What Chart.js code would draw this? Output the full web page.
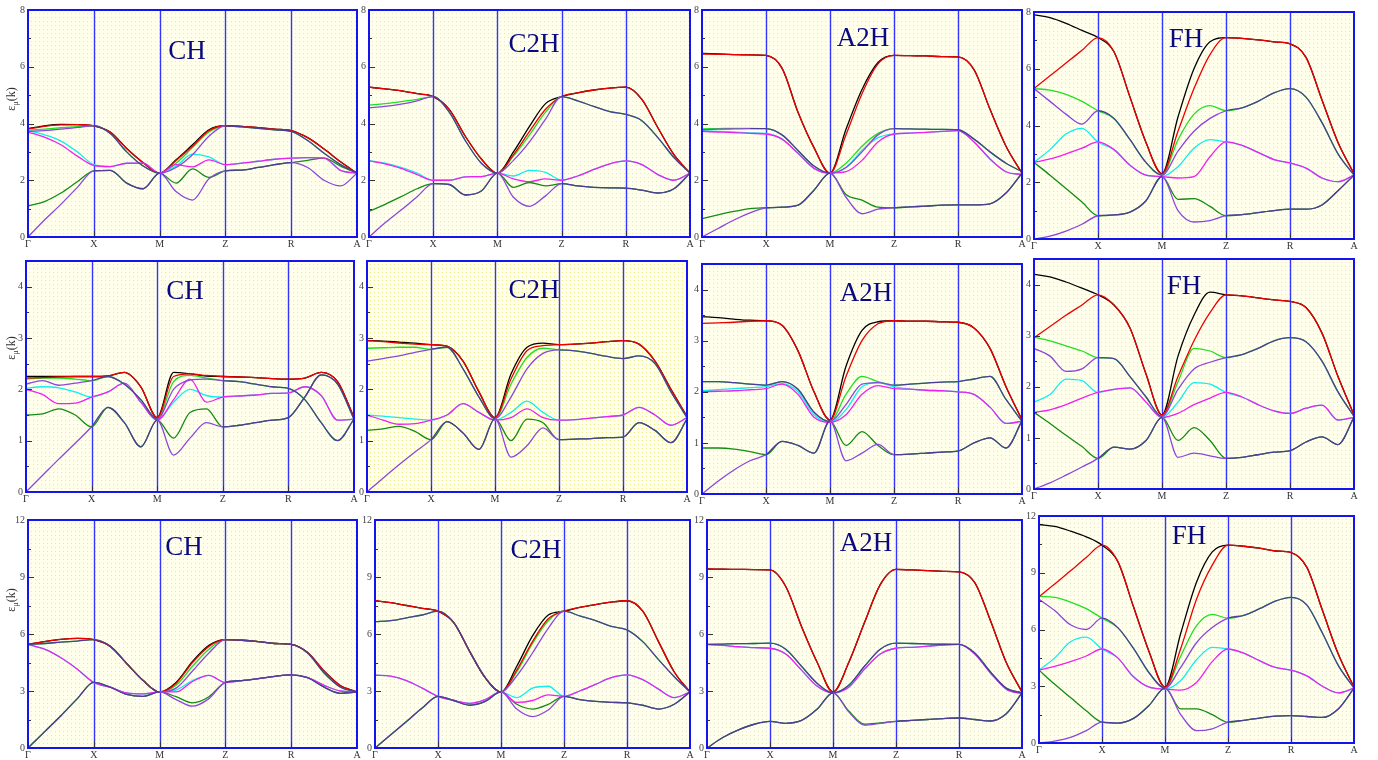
<!DOCTYPE html>
<html>
<head>
<meta charset="utf-8">
<script src="https://cdn.jsdelivr.net/npm/chart.js@4.4.0/dist/chart.umd.min.js"></script>
<style>
html, body { margin: 0; padding: 0; background: #fff; }
body { width: 1378px; height: 760px; position: relative; overflow: hidden; }
canvas { position: absolute; }
</style>
</head>
<body>
<script>
// high-symmetry path and sample positions along it
const kLabels = ['Γ', 'X', 'M', 'Z', 'R', 'A'];
const kPath = [0, 0.25, 0.5, 0.75, 1, 1.25, 1.5, 1.75, 2, 2.25, 2.5, 2.75, 3, 3.25, 3.5, 3.75, 4, 4.25, 4.5, 4.75, 5];

const rowMax = [8, 4.5, 12];
const rowStep = [2, 1, 3];

// band order (low -> high): violet, green4, magenta, cyan, violet, green, red, black
// ---- row 1 ----
const bandsCH1 = [
  [0, .6, 1.15, 1.75, 2.33, 2.35, 1.9, 1.7, 2.25, 1.6, 1.3, 2.05, 2.33, 2.36, 2.45, 2.55, 2.62, 2.45, 2.0, 1.8, 2.25],
  [1.1, 1.25, 1.55, 1.95, 2.33, 2.35, 1.9, 1.7, 2.25, 1.9, 2.4, 2.1, 2.33, 2.36, 2.45, 2.55, 2.62, 2.7, 2.78, 2.5, 2.25],
  [3.7, 3.52, 3.25, 2.85, 2.52, 2.48, 2.6, 2.6, 2.25, 2.55, 2.47, 2.72, 2.55, 2.6, 2.67, 2.74, 2.78, 2.8, 2.78, 2.35, 2.25],
  [3.75, 3.6, 3.38, 3.0, 2.55, 2.48, 2.6, 2.6, 2.25, 2.5, 2.92, 2.82, 2.55, 2.6, 2.67, 2.74, 2.78, 2.8, 2.78, 2.35, 2.25],
  [3.72, 3.75, 3.8, 3.86, 3.92, 3.65, 3.0, 2.5, 2.25, 2.45, 2.9, 3.55, 3.92, 3.88, 3.83, 3.78, 3.72, 3.4, 2.95, 2.55, 2.25],
  [3.76, 3.8, 3.85, 3.89, 3.92, 3.65, 3.0, 2.5, 2.25, 2.6, 3.15, 3.7, 3.92, 3.88, 3.83, 3.78, 3.72, 3.4, 2.95, 2.55, 2.25],
  [3.8, 3.9, 3.95, 3.96, 3.92, 3.7, 3.12, 2.62, 2.25, 2.7, 3.2, 3.75, 3.92, 3.9, 3.85, 3.8, 3.75, 3.5, 3.1, 2.65, 2.25],
  [3.82, 3.92, 3.97, 3.96, 3.92, 3.7, 3.12, 2.62, 2.25, 2.72, 3.25, 3.78, 3.92, 3.9, 3.85, 3.8, 3.75, 3.5, 3.1, 2.65, 2.25]
];
const bandsC2H1 = [
  [0, .5, .95, 1.42, 1.88, 1.85, 1.48, 1.62, 2.25, 1.4, 1.08, 1.45, 1.88, 1.8, 1.75, 1.73, 1.72, 1.65, 1.55, 1.7, 2.25],
  [.9, 1.15, 1.42, 1.7, 1.88, 1.85, 1.48, 1.62, 2.25, 1.75, 1.92, 1.8, 1.88, 1.8, 1.75, 1.73, 1.72, 1.65, 1.55, 1.7, 2.25],
  [2.68, 2.58, 2.42, 2.2, 2.0, 2.0, 2.12, 2.13, 2.25, 2.05, 1.95, 2.05, 2.0, 2.15, 2.38, 2.58, 2.68, 2.55, 2.2, 2.0, 2.25],
  [2.7, 2.6, 2.45, 2.25, 2.0, 2.0, 2.12, 2.13, 2.25, 2.15, 2.35, 2.28, 2.0, 2.15, 2.38, 2.58, 2.68, 2.55, 2.2, 2.0, 2.25],
  [4.55, 4.6, 4.68, 4.8, 4.95, 4.4, 3.4, 2.6, 2.25, 2.7, 3.35, 4.15, 4.95, 4.8, 4.6, 4.42, 4.32, 4.1, 3.5, 2.8, 2.25],
  [4.65, 4.7, 4.77, 4.85, 4.95, 4.4, 3.4, 2.6, 2.25, 2.85, 3.6, 4.4, 4.95, 4.8, 4.6, 4.42, 4.32, 4.1, 3.5, 2.8, 2.25],
  [5.28, 5.22, 5.15, 5.05, 4.95, 4.5, 3.55, 2.75, 2.25, 2.9, 3.72, 4.5, 4.95, 5.08, 5.18, 5.25, 5.28, 4.85, 3.85, 2.9, 2.25],
  [5.28, 5.22, 5.15, 5.05, 4.95, 4.5, 3.55, 2.75, 2.25, 3.0, 3.9, 4.7, 4.95, 5.08, 5.18, 5.25, 5.28, 4.85, 3.85, 2.9, 2.25]
];
const bandsA2H1 = [
  [0, .3, .6, .85, 1.03, 1.05, 1.12, 1.65, 2.25, 1.4, .82, .98, 1.03, 1.06, 1.09, 1.12, 1.13, 1.13, 1.17, 1.55, 2.25],
  [.65, .78, .9, 1.0, 1.03, 1.05, 1.12, 1.65, 2.25, 1.5, 1.3, 1.05, 1.03, 1.06, 1.09, 1.12, 1.13, 1.13, 1.17, 1.55, 2.25],
  [3.72, 3.7, 3.68, 3.65, 3.63, 3.45, 2.95, 2.42, 2.25, 2.3, 2.7, 3.35, 3.63, 3.66, 3.69, 3.72, 3.75, 3.35, 2.75, 2.3, 2.2],
  [3.75, 3.72, 3.7, 3.67, 3.65, 3.45, 2.95, 2.42, 2.25, 2.45, 3.05, 3.5, 3.63, 3.66, 3.69, 3.72, 3.75, 3.35, 2.75, 2.3, 2.2],
  [3.78, 3.8, 3.81, 3.82, 3.82, 3.6, 3.05, 2.5, 2.25, 2.45, 3.0, 3.6, 3.82, 3.81, 3.8, 3.79, 3.78, 3.45, 3.0, 2.6, 2.3],
  [3.81, 3.82, 3.83, 3.83, 3.82, 3.6, 3.05, 2.5, 2.25, 2.6, 3.2, 3.65, 3.82, 3.81, 3.8, 3.79, 3.78, 3.45, 3.0, 2.6, 2.3],
  [6.45, 6.44, 6.43, 6.42, 6.4, 5.95, 4.4, 3.15, 2.25, 3.6, 5.05, 6.1, 6.4, 6.39, 6.38, 6.36, 6.35, 5.9, 4.5, 3.2, 2.25],
  [6.47, 6.45, 6.43, 6.42, 6.4, 5.95, 4.4, 3.15, 2.25, 3.8, 5.2, 6.15, 6.4, 6.39, 6.38, 6.36, 6.35, 5.9, 4.5, 3.2, 2.25]
];
const bandsFH1 = [
  [0, .1, .28, .52, .82, .85, .95, 1.35, 2.2, 1.0, .6, .65, .82, .86, .93, 1.0, 1.05, 1.05, 1.2, 1.7, 2.25],
  [2.7, 2.25, 1.78, 1.3, .82, .85, .95, 1.35, 2.2, 1.4, 1.42, 1.15, .82, .86, .93, 1.0, 1.05, 1.05, 1.2, 1.7, 2.25],
  [2.7, 2.82, 3.0, 3.2, 3.42, 3.15, 2.6, 2.25, 2.2, 2.15, 2.2, 2.9, 3.42, 3.3, 3.05, 2.8, 2.68, 2.5, 2.15, 2.02, 2.25],
  [2.7, 3.15, 3.7, 3.9, 3.42, 3.15, 2.6, 2.25, 2.2, 2.55, 3.2, 3.5, 3.42, 3.3, 3.05, 2.8, 2.68, 2.5, 2.15, 2.02, 2.25],
  [5.3, 4.85, 4.4, 4.05, 4.52, 4.25, 3.5, 2.7, 2.25, 3.1, 3.8, 4.25, 4.52, 4.62, 4.85, 5.15, 5.3, 5.0, 4.1, 3.0, 2.25],
  [5.3, 5.25, 5.1, 4.85, 4.52, 4.25, 3.5, 2.7, 2.25, 3.5, 4.4, 4.7, 4.52, 4.62, 4.85, 5.15, 5.3, 5.0, 4.1, 3.0, 2.25],
  [5.3, 5.75, 6.2, 6.65, 7.1, 6.6, 5.0, 3.4, 2.3, 3.8, 5.3, 6.5, 7.1, 7.07, 7.02, 6.95, 6.88, 6.4, 4.9, 3.4, 2.3],
  [7.9, 7.8, 7.6, 7.35, 7.1, 6.6, 5.0, 3.4, 2.3, 4.3, 6.0, 6.95, 7.1, 7.07, 7.02, 6.95, 6.88, 6.4, 4.9, 3.4, 2.3]
];
// ---- row 2 ----
const bandsCH2 = [
  [0, .32, .64, .95, 1.27, 1.65, 1.35, .88, 1.4, .72, 1.05, 1.35, 1.27, 1.3, 1.35, 1.4, 1.45, 1.85, 2.28, 2.1, 1.42],
  [1.5, 1.52, 1.62, 1.5, 1.27, 1.65, 1.35, .88, 1.4, 1.05, 1.55, 1.62, 1.27, 1.3, 1.35, 1.4, 1.45, 1.85, 2.28, 2.1, 1.42],
  [2.0, 1.9, 1.72, 1.73, 1.85, 1.95, 2.12, 1.75, 1.4, 1.8, 2.2, 1.75, 1.85, 1.87, 1.89, 1.92, 1.93, 2.05, 1.88, 1.4, 1.42],
  [2.02, 2.05, 2.03, 1.95, 1.85, 1.95, 2.12, 1.75, 1.4, 1.75, 2.0, 1.88, 1.85, 1.87, 1.89, 1.92, 1.93, 2.05, 1.88, 1.4, 1.42],
  [2.1, 2.17, 2.08, 2.12, 2.17, 2.25, 2.1, 1.8, 1.42, 2.0, 2.18, 2.2, 2.17, 2.15, 2.1, 2.05, 2.02, 1.8, 1.35, 1.0, 1.42],
  [2.2, 2.22, 2.22, 2.2, 2.17, 2.25, 2.1, 1.8, 1.42, 2.15, 2.27, 2.22, 2.17, 2.15, 2.1, 2.05, 2.02, 1.8, 1.35, 1.0, 1.42],
  [2.22, 2.23, 2.24, 2.25, 2.25, 2.26, 2.33, 2.05, 1.45, 2.25, 2.3, 2.27, 2.25, 2.24, 2.23, 2.21, 2.2, 2.22, 2.33, 2.15, 1.45],
  [2.25, 2.25, 2.25, 2.25, 2.25, 2.26, 2.33, 2.05, 1.45, 2.33, 2.3, 2.26, 2.25, 2.24, 2.23, 2.21, 2.2, 2.22, 2.33, 2.15, 1.45]
];
const bandsC2H2 = [
  [0, .27, .53, .78, 1.02, 1.37, 1.15, .83, 1.43, .68, .9, 1.25, 1.02, 1.03, 1.04, 1.06, 1.07, 1.35, 1.2, .96, 1.42],
  [1.2, 1.23, 1.28, 1.18, 1.02, 1.37, 1.15, .83, 1.43, 1.0, 1.42, 1.35, 1.02, 1.03, 1.04, 1.06, 1.07, 1.35, 1.2, .96, 1.42],
  [1.5, 1.4, 1.32, 1.33, 1.4, 1.5, 1.72, 1.55, 1.4, 1.45, 1.62, 1.45, 1.4, 1.41, 1.44, 1.47, 1.5, 1.65, 1.5, 1.3, 1.45],
  [1.5, 1.48, 1.45, 1.42, 1.4, 1.5, 1.72, 1.55, 1.4, 1.55, 1.77, 1.55, 1.4, 1.41, 1.44, 1.47, 1.5, 1.65, 1.5, 1.3, 1.45],
  [2.55, 2.6, 2.65, 2.72, 2.78, 2.82, 2.4, 1.85, 1.43, 1.85, 2.4, 2.7, 2.77, 2.75, 2.7, 2.64, 2.6, 2.65, 2.5, 1.95, 1.45],
  [2.8, 2.81, 2.82, 2.82, 2.78, 2.82, 2.4, 1.85, 1.43, 2.1, 2.62, 2.8, 2.77, 2.75, 2.7, 2.64, 2.6, 2.65, 2.5, 1.95, 1.45],
  [2.95, 2.93, 2.9, 2.88, 2.87, 2.84, 2.55, 1.95, 1.45, 2.2, 2.75, 2.85, 2.87, 2.88, 2.9, 2.93, 2.95, 2.88, 2.55, 2.0, 1.47],
  [2.95, 2.94, 2.92, 2.9, 2.87, 2.84, 2.55, 1.95, 1.45, 2.3, 2.82, 2.9, 2.87, 2.88, 2.9, 2.93, 2.95, 2.88, 2.55, 2.0, 1.47]
];
const bandsA2H2 = [
  [0, .25, .47, .65, .77, 1.03, .95, .8, 1.43, .65, .8, .97, .77, .78, .8, .82, .84, 1.0, 1.1, .9, 1.43],
  [.9, .9, .88, .83, .77, 1.03, .95, .8, 1.43, .95, 1.22, .95, .77, .78, .8, .82, .84, 1.0, 1.1, .9, 1.43],
  [2.0, 2.01, 2.02, 2.04, 2.06, 2.15, 1.95, 1.5, 1.4, 1.55, 1.95, 2.12, 2.06, 2.05, 2.03, 2.02, 2.0, 1.95, 1.7, 1.38, 1.42],
  [2.02, 2.04, 2.06, 2.08, 2.1, 2.16, 2.0, 1.55, 1.4, 1.65, 2.1, 2.18, 2.1, 2.05, 2.03, 2.02, 2.0, 1.95, 1.7, 1.38, 1.42],
  [2.2, 2.2, 2.18, 2.15, 2.13, 2.2, 2.05, 1.6, 1.42, 1.75, 2.15, 2.18, 2.13, 2.15, 2.17, 2.19, 2.2, 2.25, 2.3, 1.85, 1.42],
  [2.2, 2.2, 2.18, 2.15, 2.13, 2.2, 2.05, 1.6, 1.42, 1.95, 2.3, 2.2, 2.13, 2.15, 2.17, 2.19, 2.2, 2.25, 2.3, 1.85, 1.42],
  [3.34, 3.35, 3.36, 3.38, 3.39, 3.3, 2.8, 2.0, 1.45, 2.3, 3.0, 3.33, 3.39, 3.38, 3.38, 3.37, 3.36, 3.25, 2.85, 2.1, 1.45],
  [3.47, 3.45, 3.42, 3.4, 3.39, 3.3, 2.8, 2.0, 1.45, 2.5, 3.2, 3.37, 3.39, 3.38, 3.38, 3.37, 3.36, 3.25, 2.85, 2.1, 1.45]
];
const bandsFH2 = [
  [0, .12, .27, .43, .6, .82, .78, .95, 1.4, .62, .7, .65, .6, .62, .67, .72, .75, .92, 1.02, .87, 1.4],
  [1.5, 1.28, 1.05, .83, .6, .82, .78, .95, 1.4, .95, 1.2, .95, .6, .62, .67, .72, .75, .92, 1.02, .87, 1.4],
  [1.5, 1.55, 1.65, 1.78, 1.89, 1.95, 1.98, 1.7, 1.4, 1.48, 1.65, 1.78, 1.89, 1.8, 1.65, 1.53, 1.48, 1.58, 1.64, 1.35, 1.4],
  [1.7, 1.85, 2.15, 2.12, 1.89, 1.95, 1.98, 1.7, 1.4, 1.7, 2.08, 2.05, 1.89, 1.8, 1.65, 1.53, 1.48, 1.58, 1.64, 1.35, 1.4],
  [2.75, 2.6, 2.3, 2.35, 2.57, 2.55, 2.2, 1.8, 1.42, 1.95, 2.35, 2.48, 2.57, 2.63, 2.75, 2.9, 2.96, 2.88, 2.5, 1.9, 1.42],
  [2.97, 2.9, 2.8, 2.7, 2.57, 2.55, 2.2, 1.8, 1.42, 2.1, 2.75, 2.7, 2.57, 2.63, 2.75, 2.9, 2.96, 2.88, 2.5, 1.9, 1.42],
  [2.96, 3.18, 3.4, 3.6, 3.8, 3.6, 3.15, 2.25, 1.45, 2.2, 2.9, 3.45, 3.8, 3.78, 3.74, 3.7, 3.67, 3.55, 3.05, 2.2, 1.45],
  [4.2, 4.15, 4.05, 3.93, 3.8, 3.6, 3.15, 2.25, 1.45, 2.6, 3.4, 3.85, 3.8, 3.78, 3.74, 3.7, 3.67, 3.55, 3.05, 2.2, 1.45]
];
// ---- row 3 ----
const bandsCH3 = [
  [0, .85, 1.7, 2.6, 3.45, 3.2, 2.82, 2.72, 2.95, 2.55, 2.2, 2.6, 3.45, 3.55, 3.65, 3.77, 3.85, 3.7, 3.2, 2.88, 2.95],
  [0, .85, 1.7, 2.6, 3.45, 3.2, 2.82, 2.72, 2.95, 2.7, 2.38, 2.7, 3.45, 3.55, 3.65, 3.77, 3.85, 3.7, 3.2, 2.88, 2.95],
  [5.45, 5.2, 4.75, 4.15, 3.45, 3.2, 2.9, 2.85, 2.95, 2.95, 3.5, 3.82, 3.45, 3.55, 3.65, 3.77, 3.85, 3.7, 3.3, 3.0, 2.95],
  [5.45, 5.2, 4.75, 4.15, 3.45, 3.2, 2.9, 2.85, 2.95, 3.05, 3.55, 3.82, 3.45, 3.55, 3.65, 3.77, 3.85, 3.7, 3.3, 3.0, 2.95],
  [5.45, 5.5, 5.57, 5.63, 5.7, 5.35, 4.45, 3.55, 2.95, 3.15, 4.05, 5.0, 5.7, 5.67, 5.6, 5.5, 5.45, 5.0, 3.95, 3.2, 2.95],
  [5.45, 5.5, 5.57, 5.63, 5.7, 5.35, 4.45, 3.55, 2.95, 3.3, 4.3, 5.2, 5.7, 5.67, 5.6, 5.5, 5.45, 5.0, 3.95, 3.2, 2.95],
  [5.45, 5.6, 5.72, 5.77, 5.7, 5.35, 4.45, 3.55, 2.95, 3.4, 4.5, 5.35, 5.7, 5.67, 5.6, 5.5, 5.45, 5.02, 4.05, 3.28, 2.95],
  [5.45, 5.6, 5.72, 5.77, 5.7, 5.35, 4.45, 3.55, 2.95, 3.45, 4.55, 5.4, 5.7, 5.67, 5.6, 5.5, 5.45, 5.02, 4.05, 3.28, 2.95]
];
const bandsC2H3 = [
  [0, .7, 1.4, 2.1, 2.72, 2.5, 2.25, 2.45, 2.95, 2.05, 1.65, 2.0, 2.72, 2.55, 2.45, 2.4, 2.38, 2.25, 2.05, 2.3, 2.95],
  [0, .7, 1.4, 2.1, 2.72, 2.5, 2.25, 2.45, 2.95, 2.3, 2.05, 2.3, 2.72, 2.55, 2.45, 2.4, 2.38, 2.25, 2.05, 2.3, 2.95],
  [3.83, 3.78, 3.55, 3.15, 2.72, 2.5, 2.35, 2.55, 2.95, 2.4, 2.5, 2.8, 2.72, 3.0, 3.35, 3.7, 3.85, 3.6, 3.1, 2.65, 2.95],
  [3.83, 3.78, 3.55, 3.15, 2.72, 2.5, 2.35, 2.55, 2.95, 2.65, 3.15, 3.25, 2.72, 3.0, 3.35, 3.7, 3.85, 3.6, 3.1, 2.65, 2.95],
  [6.65, 6.7, 6.85, 7.0, 7.2, 6.6, 5.1, 3.7, 2.95, 3.8, 5.0, 6.3, 7.2, 6.95, 6.7, 6.4, 6.22, 5.6, 4.65, 3.75, 2.95],
  [6.65, 6.7, 6.85, 7.0, 7.2, 6.6, 5.1, 3.7, 2.95, 4.0, 5.5, 6.7, 7.2, 6.95, 6.7, 6.4, 6.22, 5.6, 4.65, 3.75, 2.95],
  [7.75, 7.65, 7.5, 7.35, 7.2, 6.6, 5.1, 3.7, 2.95, 4.1, 5.6, 6.8, 7.2, 7.4, 7.55, 7.68, 7.75, 7.2, 5.6, 4.0, 2.95],
  [7.75, 7.65, 7.5, 7.35, 7.2, 6.6, 5.1, 3.7, 2.95, 4.3, 5.9, 7.0, 7.2, 7.4, 7.55, 7.68, 7.75, 7.2, 5.6, 4.0, 2.95]
];
const bandsA2H3 = [
  [0, .55, .95, 1.25, 1.4, 1.3, 1.45, 2.05, 2.9, 1.9, 1.2, 1.3, 1.4, 1.45, 1.5, 1.55, 1.58, 1.5, 1.42, 1.8, 2.9],
  [0, .55, .95, 1.25, 1.4, 1.3, 1.45, 2.05, 2.9, 1.95, 1.25, 1.32, 1.4, 1.45, 1.5, 1.55, 1.58, 1.5, 1.42, 1.8, 2.9],
  [5.45, 5.4, 5.33, 5.28, 5.25, 4.95, 4.1, 3.25, 2.9, 3.2, 4.15, 4.95, 5.25, 5.3, 5.36, 5.42, 5.45, 4.95, 3.95, 3.1, 2.85],
  [5.45, 5.4, 5.33, 5.28, 5.25, 4.95, 4.1, 3.25, 2.9, 3.2, 4.15, 4.95, 5.25, 5.3, 5.36, 5.42, 5.45, 4.95, 3.95, 3.1, 2.85],
  [5.45, 5.47, 5.49, 5.5, 5.52, 5.2, 4.3, 3.4, 2.9, 3.3, 4.3, 5.2, 5.52, 5.5, 5.48, 5.46, 5.45, 5.0, 4.0, 3.15, 2.9],
  [5.45, 5.47, 5.49, 5.5, 5.52, 5.2, 4.3, 3.4, 2.9, 3.3, 4.3, 5.2, 5.52, 5.5, 5.48, 5.46, 5.45, 5.0, 4.0, 3.15, 2.9],
  [9.42, 9.41, 9.4, 9.39, 9.37, 8.5, 6.4, 4.5, 2.95, 4.5, 6.6, 8.6, 9.4, 9.37, 9.34, 9.3, 9.27, 8.7, 6.7, 4.5, 2.95],
  [9.42, 9.41, 9.4, 9.39, 9.37, 8.5, 6.4, 4.5, 2.95, 4.5, 6.6, 8.6, 9.4, 9.37, 9.34, 9.3, 9.27, 8.7, 6.7, 4.5, 2.95]
];
const bandsFH3 = [
  [0, .1, .3, .65, 1.1, 1.05, 1.3, 2.0, 2.9, 1.5, .65, .75, 1.1, 1.2, 1.32, 1.42, 1.45, 1.4, 1.35, 1.8, 2.9],
  [3.85, 3.1, 2.4, 1.7, 1.1, 1.05, 1.3, 2.0, 2.9, 1.8, 1.8, 1.5, 1.1, 1.2, 1.32, 1.42, 1.45, 1.4, 1.35, 1.8, 2.9],
  [3.85, 4.05, 4.3, 4.6, 4.97, 4.5, 3.5, 2.95, 2.85, 2.8, 3.2, 4.3, 4.97, 4.75, 4.35, 4.0, 3.85, 3.55, 3.0, 2.65, 2.9],
  [3.85, 4.5, 5.35, 5.6, 4.97, 4.5, 3.5, 2.95, 2.85, 3.3, 4.4, 5.05, 4.97, 4.75, 4.35, 4.0, 3.85, 3.55, 3.0, 2.65, 2.9],
  [7.6, 7.0, 6.25, 6.0, 6.6, 6.1, 5.0, 3.7, 2.9, 4.0, 5.3, 6.1, 6.6, 6.75, 7.1, 7.5, 7.7, 7.3, 5.8, 4.1, 2.9],
  [7.75, 7.7, 7.45, 7.1, 6.6, 6.1, 5.0, 3.7, 2.9, 4.6, 6.2, 6.8, 6.6, 6.75, 7.1, 7.5, 7.7, 7.3, 5.8, 4.1, 2.9],
  [7.73, 8.4, 9.1, 9.8, 10.46, 9.6, 7.2, 4.8, 2.95, 5.0, 7.6, 9.4, 10.46, 10.4, 10.3, 10.15, 10.07, 9.3, 7.0, 4.7, 2.95],
  [11.55, 11.45, 11.2, 10.9, 10.46, 9.6, 7.2, 4.8, 2.95, 5.8, 8.5, 10.1, 10.46, 10.4, 10.3, 10.15, 10.07, 9.3, 7.0, 4.7, 2.95]
];

const bandColors = ['#8c46dc', '#128c12', '#f020f0', '#10eeee', '#8c46dc', '#20e020', '#ee0000', '#000000'];
const drawOrder = [0, 2, 1, 2, 0, 2, 1, 2];
const slateColor = '#4f3c9c';

// panel layout: plot box [left, top, right, bottom] in page px, title centre
const panels = [
  { bands: bandsCH1,  title: 'CH',  row: 0, col: 0, box: [28, 10, 357, 237],    tpos: [187, 52] },
  { bands: bandsC2H1, title: 'C2H', row: 0, col: 1, box: [369, 10, 690, 237],   tpos: [534, 45] },
  { bands: bandsA2H1, title: 'A2H', row: 0, col: 2, box: [702, 10, 1022, 237],  tpos: [863, 39] },
  { bands: bandsFH1,  title: 'FH',  row: 0, col: 3, box: [1034, 12, 1354, 239], tpos: [1186, 40] },
  { bands: bandsCH2,  title: 'CH',  row: 1, col: 0, box: [26, 261, 354, 492],   tpos: [185, 292] },
  { bands: bandsC2H2, title: 'C2H', row: 1, col: 1, box: [367, 261, 687, 492],  tpos: [534, 291] },
  { bands: bandsA2H2, title: 'A2H', row: 1, col: 2, box: [702, 264, 1022, 494], tpos: [866, 294] },
  { bands: bandsFH2,  title: 'FH',  row: 1, col: 3, box: [1034, 259, 1354, 489], tpos: [1184, 287] },
  { bands: bandsCH3,  title: 'CH',  row: 2, col: 0, box: [28, 520, 357, 748],   tpos: [184, 548] },
  { bands: bandsC2H3, title: 'C2H', row: 2, col: 1, box: [375, 520, 690, 748],  tpos: [536, 551] },
  { bands: bandsA2H3, title: 'A2H', row: 2, col: 2, box: [707, 520, 1022, 748], tpos: [866, 544] },
  { bands: bandsFH3,  title: 'FH',  row: 2, col: 3, box: [1039, 516, 1354, 743], tpos: [1189, 537] }
];
const yLabelCentre = [99, 348, 600];

const PAD_L = 30, PAD_T = 10, PAD_R = 10, PAD_B = 16;

// dotted yellow plot background
const dotTile = document.createElement('canvas');
dotTile.width = 4; dotTile.height = 4;
const tctx = dotTile.getContext('2d');
tctx.fillStyle = '#ffffec'; tctx.fillRect(0, 0, 4, 4);
tctx.fillStyle = '#ecec96'; tctx.fillRect(1, 1, 1, 1);

function drawYLabel(ctx, cx, cy) {
  ctx.save();
  ctx.translate(cx, cy);
  ctx.rotate(-Math.PI / 2);
  ctx.fillStyle = '#333';
  ctx.textBaseline = 'middle';
  ctx.textAlign = 'left';
  const big = '12px "Liberation Serif"', small = '8px "Liberation Serif"';
  ctx.font = big;
  const w1 = ctx.measureText('ε').width, w3 = ctx.measureText('(k)').width;
  ctx.font = small;
  const w2 = ctx.measureText('μ').width;
  let x = -(w1 + w2 + w3) / 2;
  ctx.font = big; ctx.fillText('ε', x, 0); x += w1;
  ctx.font = small; ctx.fillText('μ', x, 4); x += w2;
  ctx.font = big; ctx.fillText('(k)', x, 0);
  ctx.restore();
}

function makePanelPlugin(p, offX, offY) {
  return {
    id: 'panel',
    beforeDatasetsDraw(chart) {
      const { ctx, chartArea: a, scales: { x } } = chart;
      ctx.save();
      ctx.fillStyle = ctx.createPattern(dotTile, 'repeat');
      ctx.fillRect(a.left, a.top, a.right - a.left, a.bottom - a.top);
      ctx.strokeStyle = '#3434ff';
      ctx.lineWidth = 1.4;
      for (let k = 1; k < kLabels.length - 1; k++) {
        const px = Math.round(x.getPixelForValue(k)) + 0.5;
        ctx.beginPath(); ctx.moveTo(px, a.top); ctx.lineTo(px, a.bottom); ctx.stroke();
      }
      ctx.restore();
    },
    afterDatasetsDraw(chart) {
      const { ctx, chartArea: a, scales: { x, y } } = chart;
      ctx.save();
      // inward ticks
      ctx.strokeStyle = '#333';
      ctx.lineWidth = 1;
      const step = rowStep[p.row];
      for (let v = 0; v <= rowMax[p.row] + 1e-9; v += step / 2) {
        const py = Math.round(y.getPixelForValue(v)) + 0.5;
        const major = Math.abs(v / step - Math.round(v / step)) < 1e-6;
        ctx.beginPath(); ctx.moveTo(a.left, py); ctx.lineTo(a.left + (major ? 6 : 3), py); ctx.stroke();
      }
      for (let k = 1; k < kLabels.length - 1; k++) {
        const px = Math.round(x.getPixelForValue(k)) + 0.5;
        ctx.beginPath(); ctx.moveTo(px, a.bottom); ctx.lineTo(px, a.bottom - 6); ctx.stroke();
      }
      // frame
      ctx.strokeStyle = '#1414f0';
      ctx.lineWidth = 2;
      ctx.strokeRect(a.left, a.top, a.right - a.left, a.bottom - a.top);
      // panel title
      ctx.fillStyle = '#0a0a80';
      ctx.font = '27px "Liberation Serif"';
      ctx.textAlign = 'center';
      ctx.textBaseline = 'middle';
      ctx.fillText(p.title, p.tpos[0] - offX, p.tpos[1] - offY);
      if (p.col === 0) drawYLabel(ctx, 12 - offX, yLabelCentre[p.row] - offY);
      ctx.restore();
    }
  };
}

function makeDatasets(bands) {
  return bands.map((vals, b) => {
    const ds = {
      data: vals.map((v, i) => ({ x: kPath[i], y: v })),
      borderColor: bandColors[b],
      borderWidth: 1.3,
      pointRadius: 0,
      fill: false,
      cubicInterpolationMode: 'monotone',
      order: drawOrder[b]
    };
    if (b === 0 || b === 4) {
      const partner = bands[b + 1];
      ds.segment = {
        borderColor: c => (Math.abs(vals[c.p0DataIndex] - partner[c.p0DataIndex]) < 0.02 &&
                           Math.abs(vals[c.p1DataIndex] - partner[c.p1DataIndex]) < 0.02) ? slateColor : undefined
      };
    }
    return ds;
  });
}

panels.forEach(p => {
  const [L, T, R, B] = p.box;
  const canvas = document.createElement('canvas');
  const w = (R - L) + PAD_L + PAD_R, h = (B - T) + PAD_T + PAD_B;
  const offX = L - PAD_L, offY = T - PAD_T;
  canvas.width = w; canvas.height = h;
  canvas.style.width = w + 'px'; canvas.style.height = h + 'px';
  canvas.style.left = offX + 'px'; canvas.style.top = offY + 'px';
  document.body.appendChild(canvas);

  const step = rowStep[p.row];
  new Chart(canvas.getContext('2d'), {
    type: 'line',
    data: { datasets: makeDatasets(p.bands) },
    options: {
      responsive: false,
      animation: false,
      events: [],
      layout: { padding: { left: 0, top: PAD_T, right: PAD_R, bottom: 0 } },
      plugins: { legend: { display: false }, tooltip: { enabled: false } },
      scales: {
        x: {
          type: 'linear', min: 0, max: 5,
          grid: { display: false, drawTicks: false, tickLength: 0 },
          border: { display: false },
          ticks: {
            stepSize: 1, padding: 1, maxRotation: 0, autoSkip: false,
            color: '#333', font: { family: 'Liberation Serif', size: 10 },
            callback: v => kLabels[v]
          },
          afterFit: s => { s.height = PAD_B; }
        },
        y: {
          type: 'linear', min: 0, max: rowMax[p.row],
          grid: { display: false, drawTicks: false, tickLength: 0 },
          border: { display: false },
          ticks: {
            stepSize: step, padding: 3,
            color: '#444', font: { family: 'Liberation Serif', size: 10 }
          },
          afterBuildTicks: s => {
            s.ticks = s.ticks.filter(t => Math.abs(t.value / step - Math.round(t.value / step)) < 1e-6);
          },
          afterFit: s => { s.width = PAD_L; }
        }
      }
    },
    plugins: [makePanelPlugin(p, offX, offY)]
  });
});
</script>
</body>
</html>
